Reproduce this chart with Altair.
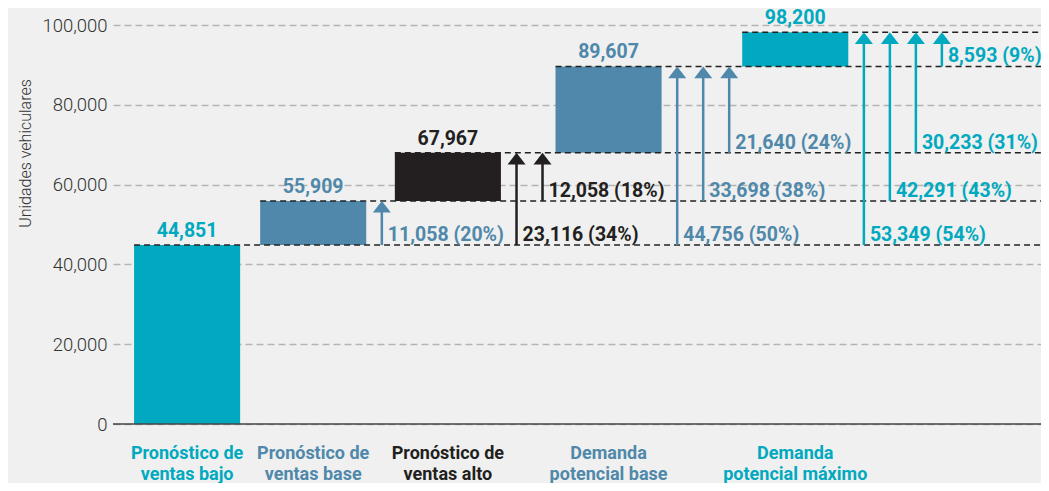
import altair as alt
import pandas as pd

# ---------------- data ----------------
categories = [
    "Pronóstico de\nventas bajo",
    "Pronóstico de\nventas base",
    "Pronóstico de\nventas alto",
    "Demanda\npotencial base",
    "Demanda\npotencial máximo",
]
totals = [44851, 55909, 67967, 89607, 98200]
total_labels = ["44,851", "55,909", "67,967", "89,607", "98,200"]
bar_colors = ["#00a9bf", "#4f88aa", "#231f20", "#4f88aa", "#00a9bf"]

arrow_to = [1, 2, 2, 3, 3, 3, 4, 4, 4, 4]
arrow_from = [0, 0, 1, 0, 1, 2, 0, 1, 2, 3]
arrow_values = [11058, 23116, 12058, 44756, 33698, 21640, 53349, 42291, 30233, 8593]
arrow_pcts = [20, 34, 18, 50, 38, 24, 54, 43, 31, 9]

y_ticks = [0, 20000, 40000, 60000, 80000, 100000]

# ---------------- layout (x in "slot" units) ----------------
UNIT_PX = 26
PLOT_W = 928
PLOT_H = 399
X_MAX = PLOT_W / UNIT_PX
BAR_W = 4.08

FONT = "Roboto, sans-serif"

starts, arrow_x = [], {}
x = 0.81
for i in range(len(totals)):
    starts.append(x)
    end = x + BAR_W
    n = sum(1 for t in arrow_to if t == i)
    if n == 0:
        x = end + 0.77
    else:
        xs_ = [end + 0.6 + k for k in range(n)]
        for k, ax in enumerate(xs_):
            arrow_x[(i, k)] = ax
        x = xs_[-1] + 0.5

bars = pd.DataFrame({
    "cat": categories,
    "x0": starts,
    "x1": [s + BAR_W for s in starts],
    "xc": [s + BAR_W / 2 for s in starts],
    "y0": [0] + totals[:-1],
    "y1": totals,
    "zero": [0] * len(totals),
    "label": total_labels,
    "color": bar_colors,
    "xend": [X_MAX] * len(totals),
})

arr_rows = []
for to, fr, v, p in zip(arrow_to, arrow_from, arrow_values, arrow_pcts):
    arr_rows.append({
        "x": arrow_x[(to, fr)],
        "y0": totals[fr],
        "y1": totals[to],
        "label": f"{v:,} ({p}%)",
        "color": bar_colors[to],
    })
arrows = pd.DataFrame(arr_rows)

xs = alt.Scale(domain=[0, X_MAX], nice=False, zero=False)
ys = alt.Scale(domain=[0, 100000], nice=False)

base_bar = alt.Chart(bars)

bar_layer = base_bar.mark_bar().encode(
    x=alt.X("x0:Q", scale=xs, axis=None),
    x2="x1:Q",
    y=alt.Y("y0:Q", scale=ys, axis=alt.Axis(
        values=y_ticks, format=",d", title="Unidades vehiculares",
        grid=True, gridDash=[7, 4], gridColor="#b4b4b4", gridWidth=1.5,
        ticks=False, domain=False, labelPadding=6,
        labelFont=FONT, labelFontSize=18.5, labelFontWeight=300, labelColor="#333333",
        titleFont=FONT, titleFontSize=16, titleFontWeight=300,
        titleColor="#333333", titlePadding=8, titleY=128)),
    y2="y1:Q",
    color=alt.Color("color:N", scale=None),
)

baseline = alt.Chart(pd.DataFrame({"a": [0], "b": [X_MAX], "y": [0]})).mark_rule(
    color="#444444", strokeWidth=1.5
).encode(x=alt.X("a:Q", scale=xs), x2="b:Q", y=alt.Y("y:Q", scale=ys))

level_rules = base_bar.mark_rule(
    color="#222222", strokeWidth=1.5, strokeDash=[6, 4]
).encode(x=alt.X("x0:Q", scale=xs), x2="xend:Q", y=alt.Y("y1:Q", scale=ys))

stems = alt.Chart(arrows).mark_rule(strokeWidth=2.5, y2Offset=6).encode(
    x=alt.X("x:Q", scale=xs),
    y=alt.Y("y0:Q", scale=ys),
    y2="y1:Q",
    color=alt.Color("color:N", scale=None),
)

heads = alt.Chart(arrows).mark_point(
    shape="M0,0 L1,1.3 L-1,1.3 Z", size=324, filled=True, opacity=1, strokeWidth=0
).encode(
    x=alt.X("x:Q", scale=xs),
    y=alt.Y("y1:Q", scale=ys),
    color=alt.Color("color:N", scale=None),
)

arrow_labels = alt.Chart(arrows).mark_text(
    align="left", baseline="alphabetic", dx=6, dy=-4,
    font=FONT, fontSize=19.5, fontWeight="bold"
).encode(
    x=alt.X("x:Q", scale=xs),
    y=alt.Y("y0:Q", scale=ys),
    text="label:N",
    color=alt.Color("color:N", scale=None),
)

total_text = base_bar.mark_text(
    align="center", baseline="alphabetic", dy=-8,
    font=FONT, fontSize=19.5, fontWeight="bold"
).encode(
    x=alt.X("xc:Q", scale=xs),
    y=alt.Y("y1:Q", scale=ys),
    text="label:N",
    color=alt.Color("color:N", scale=None),
)

cat_text = base_bar.mark_text(
    align="center", baseline="alphabetic", dy=35, lineBreak="\n", lineHeight=21,
    font=FONT, fontSize=18, fontWeight="bold"
).encode(
    x=alt.X("xc:Q", scale=xs),
    y=alt.Y("zero:Q", scale=ys),
    text="cat:N",
    color=alt.Color("color:N", scale=None),
)

chart = alt.layer(
    bar_layer, baseline, level_rules, stems, heads, arrow_labels, total_text, cat_text
).properties(
    width=PLOT_W, height=PLOT_H,
    autosize=alt.AutoSizeParams(type="none"),
    padding={"left": 105, "top": 17, "right": 0, "bottom": 59},
    background="#eff0ef",
).configure_view(stroke=None)

chart.save("out.html", embed_options={"renderer": "svg", "actions": False})
